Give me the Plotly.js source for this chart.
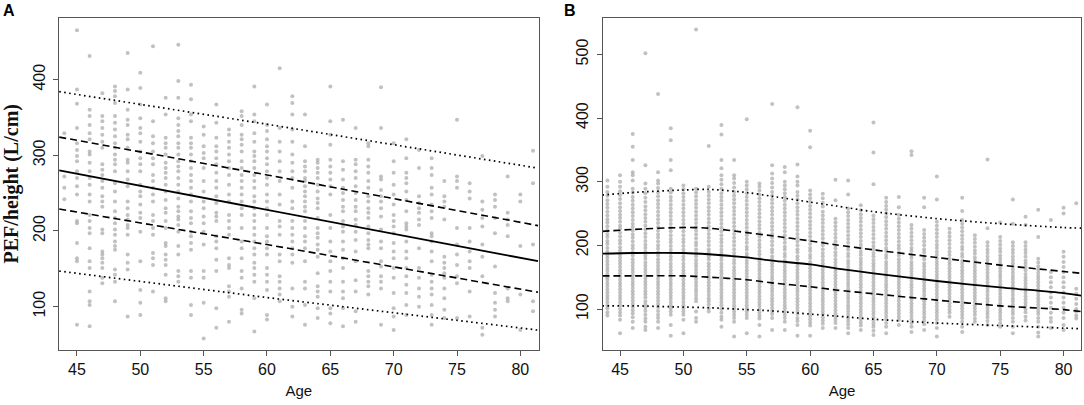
<!DOCTYPE html>
<html>
<head>
<meta charset="utf-8">
<script src="https://cdn.plot.ly/plotly-3.0.1.min.js"></script>
<style>html,body{margin:0;padding:0;background:#fff;}#chart{width:1084px;height:405px;}</style>
</head>
<body>
<div id="chart"></div>
<script>
// ---------- Panel A data ----------
const agesA = [44,45,46,47,48,49,50,51,52,53,54,55,56,57,58,59,60,61,62,63,64,65,66,67,68,69,70,71,72,73,74,75,76,77,78,79,80,81];
const pefA = [
  [329,272,257,242],
  [465,387,368,336,316,307,299,292,279,270,259,248,213,210,184,164,160,76],
  [431,360,352,340,329,321,305,301,290,279,270,261,248,239,221,213,204,197,177,160,151,120,107,102,74],
  [382,352,345,336,327,318,310,288,281,274,266,257,246,239,232,202,197,173,169,164,158,151,138,131],
  [391,385,378,369,352,343,334,325,316,310,301,294,288,279,263,252,239,226,217,210,202,195,186,180,175,149,142,133,107],
  [435,387,360,347,340,327,321,310,294,290,279,268,259,239,230,221,215,208,204,195,169,158,149,87],
  [409,389,367,349,336,329,318,305,296,288,279,261,252,246,235,224,217,199,160,122,105,89],
  [444,345,325,316,305,296,288,274,266,257,248,239,221,213,204,195,171,164,155,120],
  [376,354,323,316,310,301,290,283,277,270,261,252,241,230,224,213,204,184,180,169,162,155,142,111,107],
  [446,398,376,349,340,332,325,316,310,301,292,285,279,270,261,252,243,232,226,219,215,208,199,180,169,147,140,133],
  [393,374,354,345,323,316,310,301,292,283,274,266,257,248,239,226,217,210,199,193,184,175,147,138,102,89],
  [338,327,312,303,296,283,266,252,239,230,219,210,199,182,147,138,105,58],
  [367,343,323,312,305,296,288,277,266,257,246,237,224,219,213,193,186,177,162,147,98,72],
  [334,327,318,310,301,292,283,274,261,248,239,221,213,204,195,164,155,151,127,120,113,80],
  [358,352,340,327,321,314,305,292,283,274,266,257,248,239,230,221,204,186,177,164,147,138,124,96,91],
  [391,354,345,329,318,305,299,292,283,274,266,257,246,239,230,221,213,204,195,186,177,169,158,151,142,133,111,67],
  [367,340,332,321,312,305,296,288,279,270,261,248,239,230,221,204,193,186,177,169,151,142,133,122,89,83],
  [415,336,318,305,292,279,266,248,235,213,206,195,169,160,140,133,124,116,107],
  [378,369,354,334,318,301,290,279,270,257,239,230,213,204,195,186,177,169,158,124,100,87],
  [354,312,292,285,279,270,266,259,252,246,239,232,226,213,204,193,186,177,160,133,124,102,76],
  [294,290,283,277,270,261,252,243,237,230,217,204,197,191,182,175,166,144,127,120,113,98,85],
  [391,345,327,314,294,285,277,268,259,248,221,204,186,173,160,147,133,120,98,91,78],
  [347,292,281,268,257,250,241,232,226,213,206,199,186,175,164,151,133,120,111,98,74],
  [336,294,288,279,270,259,250,241,232,226,215,208,199,188,173,160,135,120,94,80],
  [316,312,294,285,277,266,257,246,239,230,224,217,206,197,188,182,177,147,140,133,127,116],
  [390,336,272,268,254,246,239,230,219,202,186,177,160,153,140,133,124,76],
  [316,292,277,261,248,235,221,213,206,197,184,173,164,151,138,118,98,87,69],
  [321,296,277,270,263,252,241,226,210,206,202,186,173,164,151,140,129,118,102,89],
  [307,283,246,237,230,224,215,208,177,151,138,124,113,100],
  [296,283,274,257,248,235,226,217,197,193,186,173,160,142,133,124,116,102,89,76],
  [266,246,239,232,215,166,158,151,144,138,124,111,96,85],
  [347,272,266,257,204,182,169,155,140,131,85],
  [263,252,243,204,186,173,160,151,120,87],
  [299,239,228,217,206,182,166,140,72,63],
  [248,241,232,217,197,153,118,105,96,87],
  [272,224,215,208,193,124,111,107],
  [248,239,180,116,69],
  [306,263,182,107,94]
];
const curveAgesA = [43.6,60,81.4];
const A_p50 = [280,228,160];
const A_hiDash = [324,274,207];
const A_loDash = [229,182,119];
const A_hiDot = [384,341,283];
const A_loDot = [147,112,69];

// ---------- Panel B data ----------
const agesB = [44,45,46,47,48,49,50,51,52,53,54,55,56,57,58,59,60,61,62,63,64,65,66,67,68,69,70,71,72,73,74,75,76,77,78,79,80,81];
const pefB = [
  [302,292,284,278,271,265,259,253,247,241,236,230,224,218,213,207,202,196,190,185,180,175,170,165,160,155,150,146,141,136,131,126,121,116,111,106,101,95,90],
  [310,300,292,285,279,273,266,260,254,248,243,237,231,226,220,214,208,203,197,192,186,181,176,171,166,161,156,151,146,141,136,131,126,121,116,111,106,100,95,90,83,62],
  [375,355,334,315,310,302,289,283,276,270,264,258,252,246,240,234,229,223,217,212,206,200,195,189,184,178,173,168,163,158,153,148,143,138,133,128,123,118,113,108,103,98,93,87,80,70],
  [502,326,297,289,282,275,268,261,255,249,243,237,231,225,219,213,207,201,196,190,184,179,173,168,163,158,153,148,143,138,133,128,123,118,112,107,102,97,91,85,80,72,67],
  [438,315,302,297,290,283,277,271,265,259,253,247,241,235,229,223,217,212,206,200,195,189,184,178,173,168,163,158,153,148,143,138,133,128,123,118,113,108,103,97,91,86,80,70],
  [384,365,334,318,289,283,276,270,264,258,252,246,240,234,228,222,216,210,205,199,193,188,182,177,171,166,161,156,151,146,141,136,131,126,121,116,111,106,101,96,91,75,58],
  [294,288,282,276,270,264,258,252,246,240,234,228,222,216,210,205,199,193,188,182,177,171,166,161,156,151,146,141,136,131,126,121,116,111,106,101,96,91,83,62],
  [539,289,283,277,271,265,259,253,247,241,235,229,223,217,211,205,200,194,188,183,177,172,167,162,157,152,147,142,137,132,127,122,117,112,96,86,80],
  [356,292,284,278,272,266,260,254,248,242,236,230,224,218,212,206,200,194,189,183,178,172,167,162,157,152,147,142,137,132,127,122,117,112,107,101,96],
  [389,374,334,321,310,303,296,289,282,276,270,264,258,252,246,240,234,228,222,216,210,205,199,193,188,182,177,171,166,161,156,151,146,141,136,131,126,121,116,111,106,100,94,88,83,72],
  [334,310,305,298,291,284,278,272,266,260,254,248,242,236,230,224,218,212,206,200,194,188,183,177,172,166,161,156,151,146,141,136,131,126,121,116,111,106,101,96,91,86,80,57],
  [398,300,294,288,282,276,270,264,258,252,246,240,234,228,222,216,210,204,198,193,187,182,176,171,166,161,156,151,146,141,136,131,126,121,116,111,106,101,96,91,86,62],
  [297,292,286,280,274,268,262,256,250,244,238,232,226,220,214,208,202,197,191,186,180,175,170,165,160,155,150,145,140,135,130,125,120,115,110,105,100,95,90,85,75,57],
  [422,326,313,305,298,291,284,278,272,266,260,254,248,242,236,230,224,218,212,206,200,194,189,183,178,172,167,162,157,152,147,142,137,132,127,122,117,112,107,102,97,92,86,67],
  [323,315,300,294,288,282,276,270,264,258,252,246,240,234,228,222,216,210,204,198,193,187,182,176,171,166,161,156,151,146,141,136,131,126,121,116,111,106,101,96,91,86,80,67],
  [417,327,308,300,294,284,278,272,266,260,254,248,242,236,230,224,218,212,206,200,194,189,183,178,172,167,162,157,152,147,142,137,132,127,122,117,112,107,102,97,92,86,81,75,58],
  [380,354,286,280,274,268,262,256,250,244,238,232,226,220,214,208,202,196,191,185,180,174,169,164,159,154,149,144,139,134,129,124,119,114,109,104,99,94,89,84,79,74,58],
  [281,274,267,261,253,247,241,235,229,223,217,211,205,200,194,188,183,177,172,167,162,157,152,147,142,137,132,127,122,117,112,107,102,97,92,87,82,77,70],
  [303,271,242,236,230,224,218,212,206,200,195,189,184,178,173,168,163,158,153,148,143,138,133,128,123,118,113,108,103,98,93,88,83,78,70],
  [302,280,258,252,246,240,234,228,222,216,210,204,198,193,187,182,176,171,166,161,156,151,146,141,136,131,126,121,116,111,106,101,96,91,86,81,76,70,62],
  [263,255,249,243,237,231,225,219,213,207,201,196,190,185,179,174,169,164,159,154,149,144,139,134,129,124,119,114,109,104,99,94,89,84,79,74,67],
  [393,346,296,247,241,235,229,223,217,211,205,199,194,188,183,177,172,167,162,157,152,147,142,137,132,127,122,117,112,107,102,97,92,87,82,77,72,66,59],
  [275,268,262,256,250,244,238,232,226,220,214,208,202,196,191,185,180,174,169,164,159,154,149,144,139,134,129,124,119,114,109,104,99,94,89,84,78,72,62],
  [276,260,248,242,236,230,224,218,212,206,200,195,189,184,178,173,168,163,158,153,148,143,138,133,128,123,118,113,108,103,98,93,88,83,75],
  [348,342,232,226,220,214,208,202,196,191,185,180,174,169,164,159,154,149,144,139,134,129,124,119,114,109,104,99,94,89,84,78,72,64],
  [275,260,224,218,212,206,200,194,189,183,178,172,167,162,157,152,147,142,137,132,127,122,117,112,107,102,97,92,87,82,76,67],
  [308,272,237,231,225,219,213,207,201,196,190,185,179,174,169,164,159,154,149,144,139,134,129,124,119,114,109,104,99,94,89,84,78,70,57],
  [226,220,214,208,202,196,190,185,179,174,169,164,159,154,149,144,139,134,129,124,119,114,109,104,99,94,88],
  [275,254,240,234,228,222,216,210,204,198,193,187,182,176,171,166,161,156,151,146,141,136,131,126,121,116,111,106,101,96,91,86,80,72,64],
  [216,210,204,198,192,187,181,176,171,166,161,156,151,146,141,136,131,126,121,116,111,106,101,96,91,85,80],
  [335,227,205,199,193,188,182,177,172,167,162,157,152,147,142,137,132,127,122,117,112,107,102,97,92,87,81,75],
  [236,213,207,201,195,190,184,179,174,169,164,159,154,149,144,139,134,129,124,119,114,109,104,99,94,89,84,78,72],
  [272,234,205,199,193,188,182,177,172,167,162,157,152,147,142,137,132,127,122,117,112,107,102,97,92,86,80,72,62],
  [245,232,205,199,193,188,182,176,171,166,161,155,150,145,140,135,130,125,120,115,110,105,100,95,88,82],
  [256,213,179,173,167,162,157,152,147,142,137,132,127,122,117,112,107,102,97,92,86,80,72,63,57],
  [240,158,150,142,134,126,118,110,102,94,86,80,70],
  [259,250,190,182,174,166,158,150,142,134,126,118,110,102,94,86,75,67],
  [266,132,124,116,108,100,96,90,85]
];
const curveAgesB = [43.6,46,50,52,55,57,60,62,65,70,75,80,81.4];
const B_p50 = [187,188,188,186,181,176,170,164,156,144,134,125,121];
const B_hiDash = [222,225,228,227,220,215,207,201,193,181,169,159,156];
const B_loDash = [152,152,152,150,146,141,135,130,124,114,105,99,96];
const B_hiDot = [279,283,287,288,283,277,268,262,253,242,234,228,227];
const B_loDot = [105,105,103,102,99,97,92,89,84,78,74,70,69];

const xTicks = [45,50,55,60,65,70,75,80];
const yTicksA = [100,200,300,400];
const yTicksB = [100,200,300,400,500];

// ---------- build traces ----------
function flatten(ages, vals) {
  const x = [], y = [];
  ages.forEach((a, i) => vals[i].forEach(v => { x.push(a); y.push(v); }));
  return {x, y};
}
const ptStyle = {size: 4, color: 'rgba(160,160,160,0.65)', line: {width: 0}};
const pa = flatten(agesA, pefA);
const pb = flatten(agesB, pefB);

function curve(xs, ys, xa, ya, dash, w, shape) {
  return {type: 'scatter', mode: 'lines', x: xs, y: ys, xaxis: xa, yaxis: ya,
          line: {color: '#000', width: w, dash: dash, shape: shape, smoothing: 0.8}, hoverinfo: 'skip'};
}
const DASH = '7px,4px', DOT = '1.6px,3.4px';
const traces = [
  {type: 'scatter', mode: 'markers', x: pa.x, y: pa.y, xaxis: 'x', yaxis: 'y', marker: ptStyle},
  {type: 'scatter', mode: 'markers', x: pb.x, y: pb.y, xaxis: 'x2', yaxis: 'y2', marker: ptStyle},
  curve(curveAgesA, A_hiDot, 'x', 'y', DOT, 1.7, 'linear'),
  curve(curveAgesA, A_hiDash, 'x', 'y', DASH, 1.6, 'linear'),
  curve(curveAgesA, A_p50, 'x', 'y', 'solid', 1.8, 'linear'),
  curve(curveAgesA, A_loDash, 'x', 'y', DASH, 1.6, 'linear'),
  curve(curveAgesA, A_loDot, 'x', 'y', DOT, 1.7, 'linear'),
  curve(curveAgesB, B_hiDot, 'x2', 'y2', DOT, 1.7, 'spline'),
  curve(curveAgesB, B_hiDash, 'x2', 'y2', DASH, 1.6, 'spline'),
  curve(curveAgesB, B_p50, 'x2', 'y2', 'solid', 1.8, 'spline'),
  curve(curveAgesB, B_loDash, 'x2', 'y2', DASH, 1.6, 'spline'),
  curve(curveAgesB, B_loDot, 'x2', 'y2', DOT, 1.7, 'spline')
];

const tickFont = {family: 'Liberation Sans, Arial, sans-serif', size: 16, color: '#111'};
const base = {showline: true, linecolor: '#555', linewidth: 1, mirror: true,
              ticks: 'outside', ticklen: 5, tickwidth: 1, tickcolor: '#555',
              showgrid: false, zeroline: false, tickfont: tickFont, automargin: false};
const yDom = [1 - 350/405, 1 - 17.5/405];
const layout = {
  width: 1084, height: 405,
  margin: {l: 0, r: 0, t: 0, b: 0},
  paper_bgcolor: '#fff', plot_bgcolor: '#fff',
  showlegend: false,
  xaxis: Object.assign({}, base, {domain: [59/1084, 538.7/1084], range: [43.58, 81.45],
    tickvals: xTicks, anchor: 'y',
    title: {text: 'Age', font: {family: 'Liberation Sans, Arial, sans-serif', size: 15, color: '#111'}, standoff: 8}}),
  yaxis: Object.assign({}, base, {domain: yDom, range: [42.7, 482], tickvals: yTicksA, tickangle: -90, anchor: 'x',
    ticklabelstandoff: 2,
    title: {text: '<b>PEF/height (L/cm)</b>', font: {family: 'Liberation Serif, Times New Roman, serif', size: 20, color: '#111'}, standoff: 7}}),
  xaxis2: Object.assign({}, base, {domain: [602.7/1084, 1081.3/1084], range: [43.63, 81.4],
    tickvals: xTicks, anchor: 'y2',
    title: {text: 'Age', font: {family: 'Liberation Sans, Arial, sans-serif', size: 15, color: '#111'}, standoff: 8}}),
  yaxis2: Object.assign({}, base, {domain: yDom, range: [35.6, 558], tickvals: yTicksB, tickangle: -90, anchor: 'x2',
    ticklabelstandoff: 2}),
  annotations: [
    {text: '<b>A</b>', xref: 'paper', yref: 'paper', x: 8.5/1084, y: 1 - 11/405, showarrow: false,
     font: {family: 'Liberation Sans, Arial, sans-serif', size: 16, color: '#000'}, xanchor: 'center', yanchor: 'middle'},
    {text: '<b>B</b>', xref: 'paper', yref: 'paper', x: 570/1084, y: 1 - 10.5/405, showarrow: false,
     font: {family: 'Liberation Sans, Arial, sans-serif', size: 16, color: '#000'}, xanchor: 'center', yanchor: 'middle'}
  ]
};
Plotly.newPlot('chart', traces, layout, {staticPlot: true, displayModeBar: false});
</script>
</body>
</html>
